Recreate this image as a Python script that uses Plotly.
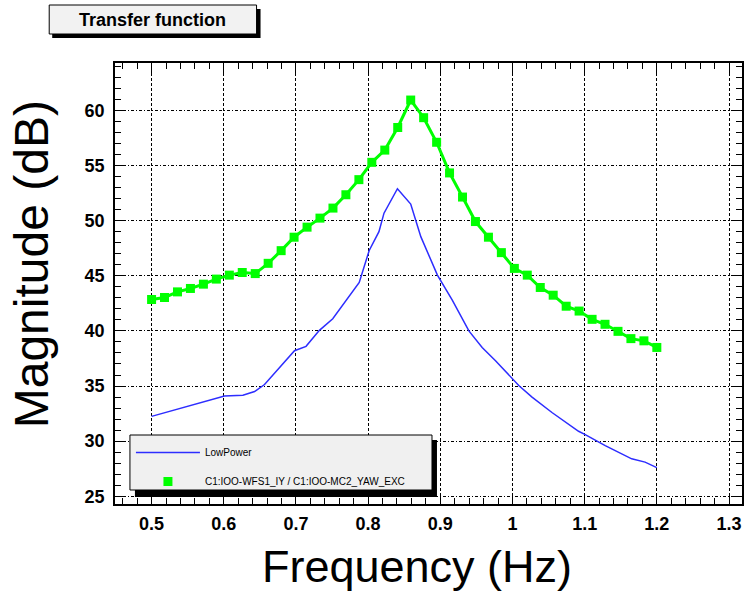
import plotly.graph_objects as go

# ---- data ----
freq_meas = [0.5, 0.5179, 0.5359, 0.5538, 0.5718, 0.5897, 0.6077, 0.6256, 0.6436, 0.6615,
             0.6795, 0.6974, 0.7154, 0.7333, 0.7513, 0.7692, 0.7872, 0.8051, 0.8231, 0.8410,
             0.8590, 0.8769, 0.8949, 0.9128, 0.9308, 0.9487, 0.9667, 0.9846, 1.0026, 1.0205,
             1.0385, 1.0564, 1.0744, 1.0923, 1.1103, 1.1282, 1.1462, 1.1641, 1.1821, 1.2]
mag_meas = [42.85, 43.03, 43.54, 43.85, 44.24, 44.7, 45.06, 45.3, 45.2, 46.13,
            47.28, 48.5, 49.41, 50.23, 51.14, 52.35, 53.72, 55.29, 56.4, 58.45,
            60.94, 59.34, 57.11, 54.33, 52.14, 49.92, 48.5, 47.1, 45.67, 45.06,
            43.94, 43.24, 42.24, 41.8, 41.05, 40.6, 39.96, 39.3, 39.1, 38.5]

freq_low = [0.5, 0.601, 0.6265, 0.6427, 0.6565, 0.698, 0.714, 0.7325, 0.751, 0.7877,
            0.8015, 0.815, 0.822, 0.8406, 0.859, 0.873, 0.896, 0.9166, 0.9396, 0.958,
            0.9765, 0.9949, 1.0087, 1.0271, 1.0547, 1.0916, 1.1008, 1.1285, 1.1468, 1.1652,
            1.1837, 1.2]
mag_low = [32.25, 34.1, 34.17, 34.5, 35.14, 38.2, 38.6, 40.05, 41.1, 44.4,
           47.3, 49.0, 50.68, 52.9, 51.5, 48.55, 45.06, 42.8, 40.0, 38.5,
           37.3, 35.96, 35.05, 34.0, 32.6, 30.9, 30.6, 29.6, 29.0, 28.4,
           28.1, 27.6]

name_low = "LowPower"
name_meas = "C1:IOO-WFS1_IY / C1:IOO-MC2_YAW_EXC"
title_text = "Transfer function"
x_title = "Frequency (Hz)"
y_title = "Magnitude (dB)"

# ---- layout geometry (pixels) ----
W, H = 744, 595
L, R, T, B = 115, 0, 63, 91
PW, PH = W - L - R, H - T - B


def px(x):
    return (x - L) / PW


def py(y):
    return (H - B - y) / PH


GREEN = "#00ff00"
BLUE = "rgb(45,45,255)"

fig = go.Figure()
fig.add_trace(go.Scatter(x=freq_low, y=mag_low, mode="lines", name=name_low,
                         line=dict(color=BLUE, width=1.5), legendgroup="a"))
fig.add_trace(go.Scatter(x=freq_meas, y=mag_meas, mode="lines", showlegend=False,
                         line=dict(color=GREEN, width=3)))
fig.add_trace(go.Scatter(x=freq_meas, y=mag_meas, mode="markers", name=name_meas,
                         marker=dict(symbol="square", size=9, color=GREEN),
                         legendgroup="b"))

common = dict(showline=True, linecolor="black", linewidth=1.5, mirror="ticks",
              ticks="inside", ticklen=10, tickwidth=1, tickcolor="black",
              showgrid=True, gridcolor="black", gridwidth=1, zeroline=False,
              tickfont=dict(family="Liberation Sans, Arial", size=18, color="black",
                            weight="bold"))

fig.update_xaxes(range=[0.4493, 1.318], dtick=0.1, tick0=0.5, griddash="3px,2px",
                 minor=dict(dtick=0.02, ticklen=6, ticks="inside", tickcolor="black",
                            showgrid=False),
                 ticklabelstandoff=3, **common)
fig.update_yaxes(range=[24.3, 64.3], dtick=5, tick0=0, griddash="3px,2px,1px,2px",
                 minor=dict(dtick=1, ticklen=6, ticks="inside", tickcolor="black",
                            showgrid=False),
                 ticklabelstandoff=5, **common)

shapes = [
    # title box with shadow
    dict(type="rect", xref="paper", yref="paper", x0=px(52), x1=px(261), y0=py(9), y1=py(38),
         fillcolor="black", line=dict(width=0)),
    dict(type="rect", xref="paper", yref="paper", x0=px(49), x1=px(257), y0=py(5), y1=py(34),
         fillcolor="#f2f2f2", line=dict(color="black", width=1)),
    # legend box with shadow
    dict(type="rect", xref="paper", yref="paper", x0=px(135), x1=px(438), y0=py(440), y1=py(497),
         fillcolor="black", line=dict(width=0), layer="above"),
    dict(type="rect", xref="paper", yref="paper", x0=px(130), x1=px(433), y0=py(435), y1=py(490),
         fillcolor="#f0f0f0", line=dict(color="black", width=1), layer="above"),
]

annotations = [
    dict(text=title_text, xref="paper", yref="paper", x=px(153), y=py(19.5),
         xanchor="center", yanchor="middle", showarrow=False,
         font=dict(family="Liberation Sans, Arial", size=18, color="black", weight="bold")),
    dict(text=x_title, xref="paper", yref="paper", x=px(418), y=py(566),
         xanchor="center", yanchor="middle", showarrow=False,
         font=dict(family="Liberation Sans, Arial", size=45, color="black")),
    dict(text=y_title, xref="paper", yref="paper", x=px(31), y=py(264),
         xanchor="center", yanchor="middle", showarrow=False, textangle=-90,
         font=dict(family="Liberation Sans, Arial", size=48, color="black")),
]

fig.update_layout(
    width=W, height=H,
    margin=dict(l=L, r=R, t=T, b=B, pad=0),
    paper_bgcolor="white", plot_bgcolor="white",
    shapes=shapes, annotations=annotations,
    showlegend=True,
    legend=dict(x=px(131), y=py(438), xanchor="left", yanchor="top",
                bgcolor="rgba(0,0,0,0)", borderwidth=0,
                font=dict(family="Liberation Sans, Arial", size=10, color="black"),
                itemwidth=64, tracegroupgap=10, traceorder="grouped"),
)

fig.write_html("out.html")
